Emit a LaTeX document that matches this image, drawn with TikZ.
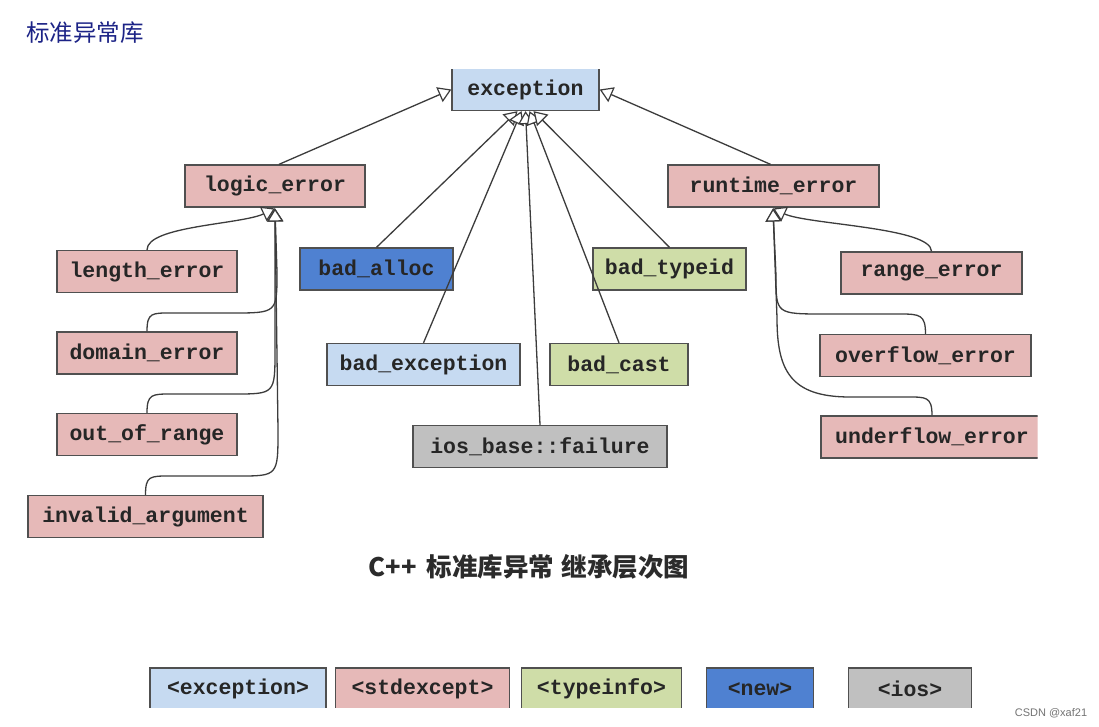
\documentclass[tikz,border=0pt]{standalone}
\usepackage{fontspec}
\setmainfont{Liberation Sans}
\newfontfamily\cjk{Noto Sans CJK SC}
\newfontfamily\monof{Liberation Mono}
\usetikzlibrary{arrows.meta}
\definecolor{bordc}{HTML}{505050}
\definecolor{linec}{HTML}{3C3C3C}
\definecolor{cexc}{HTML}{C6DAF1}
\definecolor{cstd}{HTML}{E6B9B8}
\definecolor{ctyp}{HTML}{CFDDA8}
\definecolor{cnew}{HTML}{4F81D1}
\definecolor{cios}{HTML}{C0C0C0}
\definecolor{titlec}{HTML}{1C2386}
\definecolor{capc}{HTML}{2B2B2B}
\newcommand\bxfont{\monof\bfseries\fontsize{21.5}{24}\selectfont}
\begin{document}
\begin{tikzpicture}[x=1pt,y=-1pt,
  box/.style={draw=bordc, line width=1.3pt, inner sep=0pt, minimum height=42pt,
    text=black!85, font=\bxfont},
  inh/.style={draw=linec, line width=1.3pt,
    -{Triangle[fill=white, length=13pt, width=16pt, line width=1.2pt]}}
]
\useasboundingbox[fill=white] (0,0) rectangle (1099,727);

% title
\node[font=\cjk\fontsize{23.5}{28}\selectfont, text=titlec, anchor=west, inner sep=0pt] (title) at (26,33) {标准异常库};

% root (top border cut off)
\begin{scope}
\clip (400,69.6) rectangle (650,130);
\node[box, fill=cexc, minimum width=147pt] (exc) at (525.5,89.5) {exception};
\end{scope}

% second level
\node[box, fill=cstd, minimum width=180pt] (logic) at (275,186) {logic\_error};
\node[box, fill=cstd, minimum width=211pt] (rt) at (773.5,186) {runtime\_error};

% logic_error children
\node[box, fill=cstd, minimum width=180pt] (len) at (147,271.5) {length\_error};
\node[box, fill=cstd, minimum width=180pt] (dom) at (147,353) {domain\_error};
\node[box, fill=cstd, minimum width=180pt] (oor) at (147,434.5) {out\_of\_range};
\node[box, fill=cstd, minimum width=235pt] (inv) at (145.5,516.5) {invalid\_argument};

% direct children of exception
\node[box, fill=cnew, minimum width=153pt] (alloc) at (376.5,269) {bad\_alloc};
\node[box, fill=cexc, minimum width=193pt] (bexc) at (423.5,364.5) {bad\_exception};
\node[box, fill=cios, minimum width=254pt] (ios) at (540,446.5) {ios\_base::failure};
\node[box, fill=ctyp, minimum width=153pt] (tid) at (669.5,269) {bad\_typeid};
\node[box, fill=ctyp, minimum width=138pt] (cast) at (619,364.5) {bad\_cast};

% runtime_error children
\node[box, fill=cstd, minimum width=181pt] (rng) at (931.5,273) {range\_error};
\node[box, fill=cstd, minimum width=211pt] (ovf) at (925.5,355.5) {overflow\_error};
\begin{scope}
\clip (800,400) rectangle (1037.5,470);
\node[box, fill=cstd, minimum width=222pt] (und) at (932,437) {underflow\_error};
\end{scope}

% tips
\coordinate (lt) at (275,208.5);
\coordinate (rtip) at (773,208.5);

% edges to exception
\draw[inh] ([xshift=4pt]logic.north) -- (exc.west);
\draw[inh] ([xshift=-3pt]rt.north) -- (exc.east);
\draw[inh] (alloc.north) -- ([xshift=-8pt]exc.south);
\draw[inh] (bexc.north) -- ([xshift=-4pt]exc.south);
\draw[inh] (ios.north) -- ([xshift=0pt]exc.south);
\draw[inh] (cast.north) -- ([xshift=4pt]exc.south);
\draw[inh] (tid.north) -- ([xshift=8pt]exc.south);

% edges to logic_error
\draw[inh] (len.north) .. controls +(0,-24) and +(-34,16) .. (lt);
\draw[inh] (dom.north) .. controls +(0,-19) and +(-20,0) .. (172,313) -- (232,313)
   .. controls (277,313) .. (277,272) -- (lt);
\draw[inh] (oor.north) .. controls +(0,-19) and +(-20,0) .. (172,394) -- (234,394)
   .. controls (275,394) .. (275,350) -- (lt);
\draw[inh] (inv.north) .. controls +(0,-19) and +(-20,0) .. (170,476) -- (238,476)
   .. controls (278,476) .. (278,430) -- (lt);

% edges to runtime_error
\draw[inh] (rng.north) .. controls +(0,-24) and +(34,16) .. (rtip);
\draw[inh] (ovf.north) .. controls +(0,-19) and +(20,0) .. (900,314) -- (825,314)
   .. controls (776,314) .. (776,276) -- (rtip);
\draw[inh] (und.north) .. controls +(0,-19) and +(20,0) .. (906,397) -- (850,397)
   .. controls (790,397) and (777,370) .. (777,318) -- (rtip);

% caption
\node[font=\cjk\bfseries\fontsize{25.5}{30}\selectfont, text=capc, inner sep=0pt] (cap) at (529,567) {C++\hspace{4pt} 标准库异常\hspace{2pt} 继承层次图};

% legend (bottom cut off)
\begin{scope}
\clip (100,650) rectangle (1000,707.5);
\node[box, fill=cexc, minimum width=176pt] (lg1) at (238,689) {<exception>};
\node[box, fill=cstd, minimum width=174pt] (lg2) at (422.5,689) {<stdexcept>};
\node[box, fill=ctyp, minimum width=160pt] (lg3) at (601.5,689) {<typeinfo>};
\node[box, fill=cnew, minimum width=107pt] (lg4) at (760,689) {<new>};
\node[box, fill=cios, minimum width=123pt] (lg5) at (910,689) {<ios>};
\end{scope}

% watermark
\node[font=\fontsize{11}{13}\selectfont, text=black!55, inner sep=0pt] (wm) at (1051,713) {CSDN @xaf21};
\end{tikzpicture}
\end{document}
